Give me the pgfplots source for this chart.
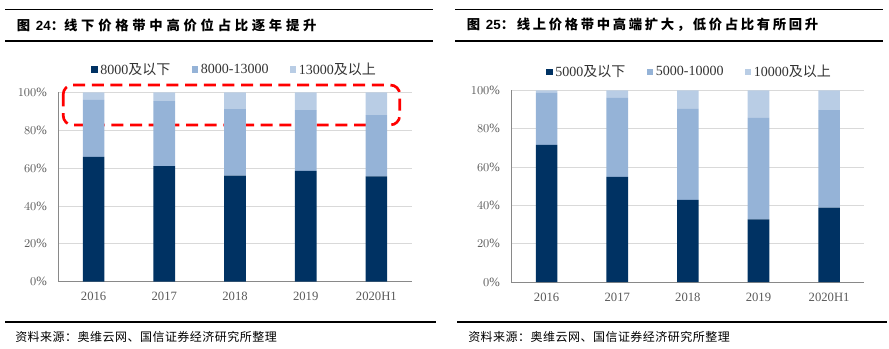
\documentclass[border=0pt]{standalone}
\usepackage{fontspec}
\setmainfont{Liberation Serif}
\newfontfamily\cjk{Noto Sans CJK SC}
\newfontfamily\cjks[LetterSpace=4]{Noto Sans CJK SC}
\newfontfamily\cjkt[LetterSpace=28]{Noto Sans CJK SC}
\newfontfamily\cjktt[LetterSpace=20]{Noto Sans CJK SC}
\newfontfamily\arialb{Liberation Sans}
\usepackage{pgfplots}
\pgfplotsset{compat=1.18}
\definecolor{c1}{HTML}{003263}
\definecolor{c2}{HTML}{95B3D7}
\definecolor{c3}{HTML}{B9CDE5}
\definecolor{tickc}{HTML}{595959}
\definecolor{gridc}{HTML}{D9D9D9}
\definecolor{axc}{HTML}{898989}
\pgfplotsset{
 sq/.style={fill=#1, draw=none, legend image code/.code={\fill[#1] (0pt,-2.4pt) rectangle (4.8pt,2.4pt);}},
 mybar/.style={
  scale only axis, ybar stacked, bar width=0.307,
  xmin=-0.5, xmax=4.5, ymin=0, ymax=100,
  xtick={0,...,4}, xticklabels={2016,2017,2018,2019,2020H1},
  ytick={0,20,...,100}, yticklabel={\pgfmathprintnumber{\tick}\%},
  ymajorgrids, grid style={gridc, line width=0.6pt},
  axis x line*=bottom, axis y line*=left,
  axis line style={axc, line width=0.7pt},
  major tick length=0pt,
  tick label style={font=\fontsize{9.5}{11}\selectfont, text=tickc},
  xticklabel style={yshift=-4.5pt},
  yticklabel style={xshift=-5pt},
  legend style={anchor=center, draw=none, fill=none, legend columns=3,
    font=\fontsize{10.5}{12}\selectfont, text=black!80,
    /tikz/every even column/.append style={column sep=14pt}},
  clip=false,
 }
}
\begin{document}
\begin{tikzpicture}
\useasboundingbox (0pt,0pt) rectangle (666.75pt,-261.75pt);
% title rules
\draw[line width=1pt] (3.75pt,-7pt) -- (324.75pt,-7pt);
\draw[line width=1pt] (3.75pt,-30.75pt) -- (324.75pt,-30.75pt);
\draw[line width=1pt] (341.25pt,-7pt) -- (662.25pt,-7pt);
\draw[line width=1pt] (341.25pt,-30.75pt) -- (662.25pt,-30.75pt);
\node[anchor=west, inner sep=0pt, font=\fontsize{10}{12}\selectfont] at (12.5pt,-18.75pt) {\cjktt\bfseries 图 {\arialb\bfseries 24}：{\cjkt\bfseries 线下价格带中高价位占比逐年提升}};
\node[anchor=west, inner sep=0pt, font=\fontsize{10}{12}\selectfont] at (350pt,-18.75pt) {\cjktt\bfseries 图 {\arialb\bfseries 25}：线上价格带中高端扩大，低价占比有所回升};
% bottom rules and source
\draw[line width=1pt] (3.75pt,-241.5pt) -- (327pt,-241.5pt);
\draw[line width=1pt] (342.75pt,-241.5pt) -- (665.25pt,-241.5pt);
\node[anchor=west, inner sep=0pt, font=\fontsize{9}{10}\selectfont] at (11.25pt,-252.75pt) {\cjks 资料来源：奥维云网、国信证券经济研究所整理};
\node[anchor=west, inner sep=0pt, font=\fontsize{9}{10}\selectfont] at (351pt,-252.75pt) {\cjks 资料来源：奥维云网、国信证券经济研究所整理};

\begin{axis}[mybar, at={(43.7pt,-211.3pt)}, anchor=south west,
  width=265.1pt, height=142pt,
  legend style={at={(0.5,1.12)}}]
\addplot[sq=c1] coordinates {(0,66) (1,61) (2,56) (3,58.5) (4,55.6)};
\addplot[sq=c2] coordinates {(0,30) (1,34.4) (2,35.2) (3,32.2) (4,32.4)};
\addplot[sq=c3] coordinates {(0,4) (1,4.6) (2,8.8) (3,9.3) (4,12)};
\addlegendentry{8000{\cjk 及以下}}
\addlegendentry{8000-13000}
\addlegendentry{13000{\cjk 及以上}}
\draw[red, line width=2pt, dash pattern=on 9pt off 5pt, rounded corners=7pt] (axis cs:-0.43,103.9) rectangle (axis cs:4.33,82.8);
\end{axis}

\begin{axis}[mybar, at={(383.5pt,-211.5pt)}, anchor=south west,
  width=264.8pt, height=143.8pt,
  legend style={at={(0.506,1.095)}}]
\addplot[sq=c1] coordinates {(0,71.5) (1,54.8) (2,42.8) (3,32.7) (4,38.8)};
\addplot[sq=c2] coordinates {(0,27.1) (1,41.2) (2,47.5) (3,52.9) (4,50.9)};
\addplot[sq=c3] coordinates {(0,1.4) (1,4) (2,9.7) (3,14.4) (4,10.3)};
\addlegendentry{5000{\cjk 及以下}}
\addlegendentry{5000-10000}
\addlegendentry{10000{\cjk 及以上}}
\end{axis}
\end{tikzpicture}
\end{document}
